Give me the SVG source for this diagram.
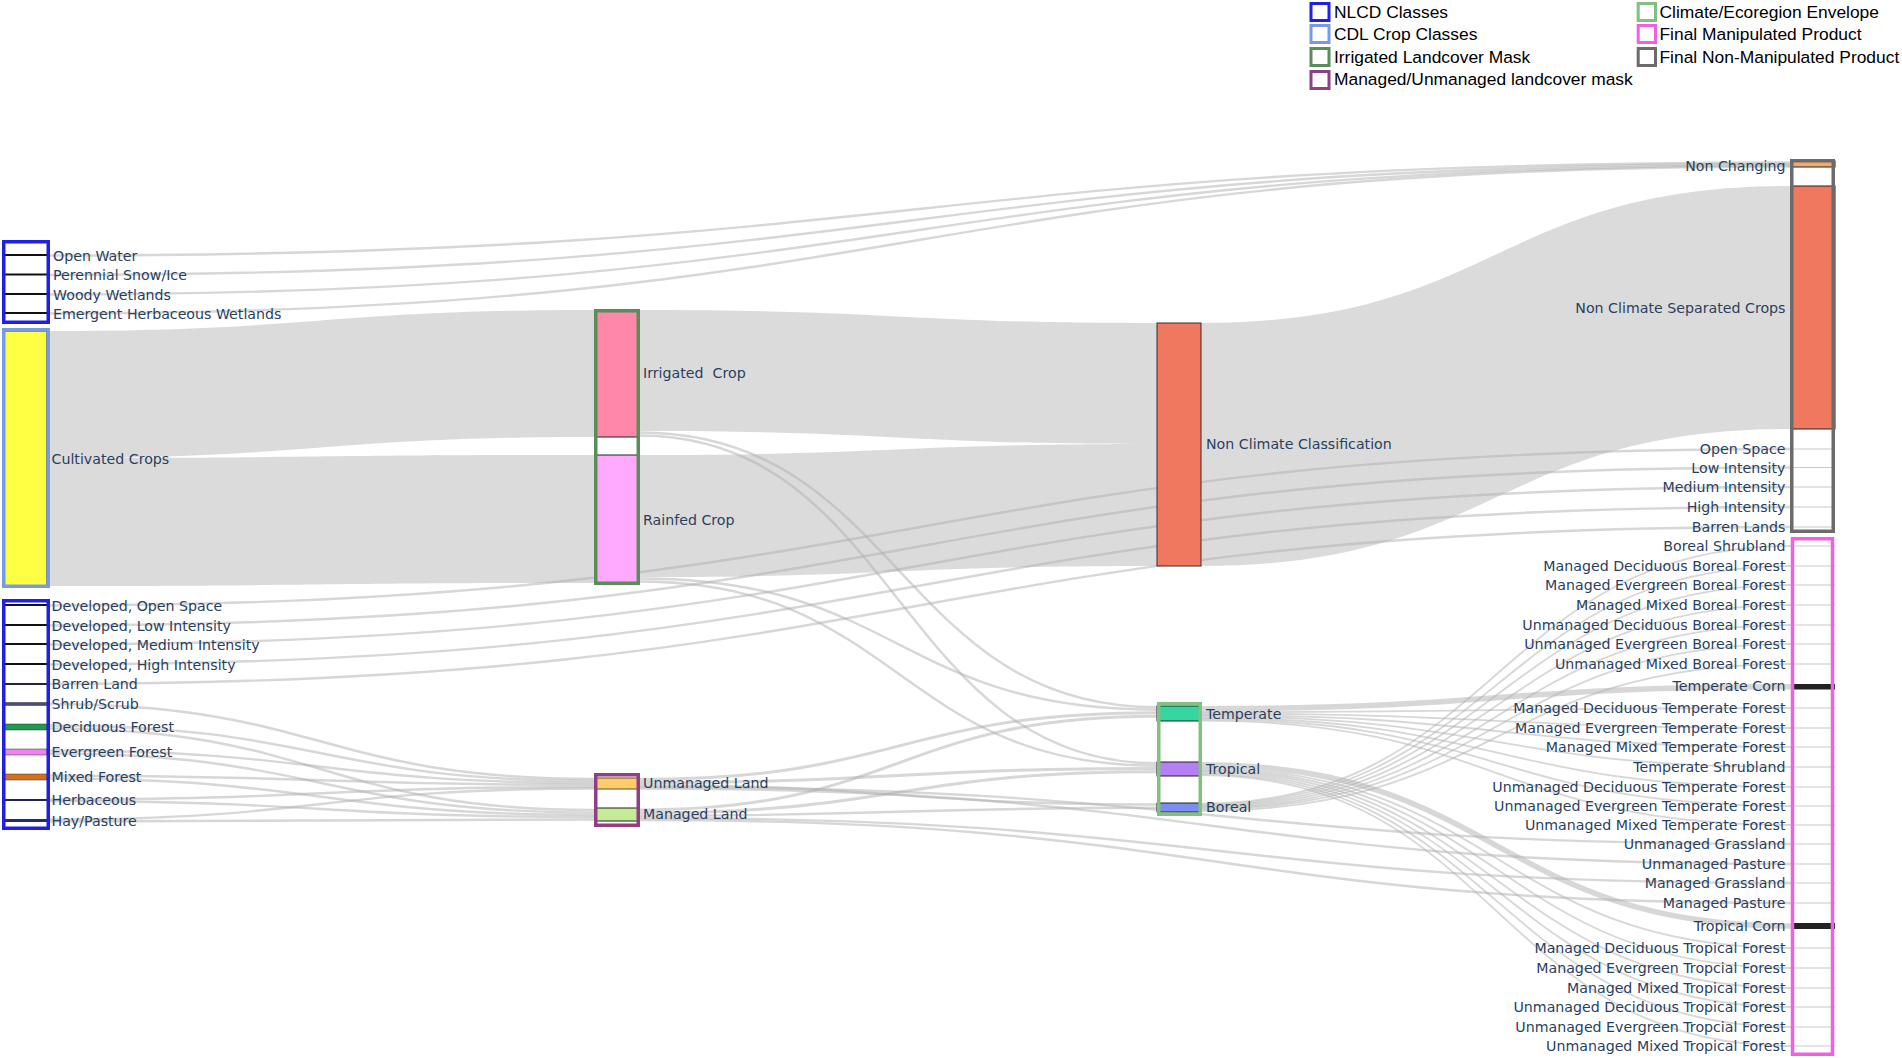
<svg xmlns="http://www.w3.org/2000/svg" width="1902" height="1058" viewBox="0 0 1902 1058">
<style>
.band{fill:#b8b8b8;fill-opacity:.5;stroke:none}
.lk{fill:none;stroke:#b0b0b0;stroke-opacity:.5;stroke-width:2.4}
.lbl{font-family:"DejaVu Sans",Verdana,sans-serif;font-size:14.2px;fill:#2a3f5f}
.r{text-anchor:end}
.leg{font-family:"Liberation Sans",Arial,sans-serif;font-size:17.4px;fill:#000}
.nd{stroke:#222;stroke-width:1}
.tiny{fill:#fff;stroke:#111;stroke-width:1}
.gl{fill:#c9c9c9}
.box{fill:none;stroke-width:3.5}
.lb{fill:#fff;stroke-width:3}
</style>
<rect width="1902" height="1058" fill="#fff"/>

<g id="links">
<path class="band" d="M47,331 C321.25,331 321.25,310 595.5,310 L595.5,437 C321.25,437 321.25,458 47,458 Z"/>
<path class="band" d="M47,458 C321.25,458 321.25,455 595.5,455 L595.5,583 C321.25,583 321.25,586 47,586 Z"/>
<path class="band" d="M639.5,310 C898.25,310 898.25,323 1157,323 L1157,444 C898.25,444 898.25,431 639.5,431 Z"/>
<path class="band" d="M639.5,455 C898.25,455 898.25,444 1157,444 L1157,566 C898.25,566 898.25,577 639.5,577 Z"/>
<path class="band" d="M1201,323 C1496,323 1496,186 1791,186 L1791,429 C1496,429 1496,566 1201,566 Z"/>
<path class="lk" d="M47,255.5 C919,255.5 919,162.5 1791,162.5"/>
<path class="lk" d="M47,275 C919,275 919,164 1791,164"/>
<path class="lk" d="M47,294.5 C919,294.5 919,165.5 1791,165.5"/>
<path class="lk" d="M47,313.5 C919,313.5 919,166.5 1791,166.5"/>
<path class="lk" d="M47,605.5 C919,605.5 919,449 1791,449"/>
<path class="lk" d="M47,625.5 C919,625.5 919,467.5 1791,467.5"/>
<path class="lk" d="M47,644.5 C919,644.5 919,487 1791,487"/>
<path class="lk" d="M47,664.5 C919,664.5 919,507 1791,507"/>
<path class="lk" d="M47,684 C919,684 919,527 1791,527"/>
<path class="lk" d="M47,704 C321.25,704 321.25,779 595.5,779"/>
<path class="lk" d="M47,725.5 C321.25,725.5 321.25,781 595.5,781"/>
<path class="lk" d="M47,728.5 C321.25,728.5 321.25,810 595.5,810"/>
<path class="lk" d="M47,750.5 C321.25,750.5 321.25,783 595.5,783"/>
<path class="lk" d="M47,753.5 C321.25,753.5 321.25,812.5 595.5,812.5"/>
<path class="lk" d="M47,775.5 C321.25,775.5 321.25,785 595.5,785"/>
<path class="lk" d="M47,778.5 C321.25,778.5 321.25,815 595.5,815"/>
<path class="lk" d="M47,799.5 C321.25,799.5 321.25,787 595.5,787"/>
<path class="lk" d="M47,801 C321.25,801 321.25,817 595.5,817"/>
<path class="lk" d="M47,819.5 C321.25,819.5 321.25,788.5 595.5,788.5"/>
<path class="lk" d="M47,821.5 C321.25,821.5 321.25,819.5 595.5,819.5"/>
<path class="lk" d="M639.5,432.5 C898.25,432.5 898.25,707.3 1157,707.3"/>
<path class="lk" d="M639.5,435.5 C898.25,435.5 898.25,763.3 1157,763.3"/>
<path class="lk" d="M639.5,578.5 C898.25,578.5 898.25,709.7 1157,709.7"/>
<path class="lk" d="M639.5,581.5 C898.25,581.5 898.25,765.7 1157,765.7"/>
<path class="lk" style="stroke-width:3" d="M639.5,779.5 C898.25,779.5 898.25,712.7 1157,712.7"/>
<path class="lk" style="stroke-width:3" d="M639.5,782.5 C898.25,782.5 898.25,768.5 1157,768.5"/>
<path class="lk" d="M639.5,785.2 C898.25,785.2 898.25,804.5 1157,804.5"/>
<path class="lk" style="stroke-width:3" d="M639.5,810 C898.25,810 898.25,716.2 1157,716.2"/>
<path class="lk" style="stroke-width:3" d="M639.5,813 C898.25,813 898.25,771.7 1157,771.7"/>
<path class="lk" d="M639.5,815.8 C898.25,815.8 898.25,807.8 1157,807.8"/>
<path class="lk" d="M639.5,787 C1215.25,787 1215.25,844 1791,844"/>
<path class="lk" d="M639.5,788.5 C1215.25,788.5 1215.25,864 1791,864"/>
<path class="lk" d="M639.5,818 C1215.25,818 1215.25,883 1791,883"/>
<path class="lk" d="M639.5,820 C1215.25,820 1215.25,903 1791,903"/>
<path class="lk" style="stroke-width:5.5" d="M1201,708.75 C1496,708.75 1496,686.75 1791,686.75"/>
<path class="lk" style="stroke-width:1.8" d="M1201,712.2 C1496,712.2 1496,708 1791,708"/>
<path class="lk" style="stroke-width:1.8" d="M1201,713.6 C1496,713.6 1496,728 1791,728"/>
<path class="lk" style="stroke-width:1.8" d="M1201,715 C1496,715 1496,747 1791,747"/>
<path class="lk" style="stroke-width:1.8" d="M1201,716.4 C1496,716.4 1496,767 1791,767"/>
<path class="lk" style="stroke-width:1.8" d="M1201,717.8 C1496,717.8 1496,787 1791,787"/>
<path class="lk" style="stroke-width:1.8" d="M1201,719.2 C1496,719.2 1496,806 1791,806"/>
<path class="lk" style="stroke-width:1.8" d="M1201,720.6 C1496,720.6 1496,825 1791,825"/>
<path class="lk" style="stroke-width:5.5" d="M1201,764.75 C1496,764.75 1496,926 1791,926"/>
<path class="lk" style="stroke-width:1.8" d="M1201,768.2 C1496,768.2 1496,948 1791,948"/>
<path class="lk" style="stroke-width:1.8" d="M1201,769.6 C1496,769.6 1496,968 1791,968"/>
<path class="lk" style="stroke-width:1.8" d="M1201,771 C1496,771 1496,988 1791,988"/>
<path class="lk" style="stroke-width:1.8" d="M1201,772.4 C1496,772.4 1496,1007 1791,1007"/>
<path class="lk" style="stroke-width:1.8" d="M1201,773.8 C1496,773.8 1496,1027 1791,1027"/>
<path class="lk" style="stroke-width:1.8" d="M1201,775.2 C1496,775.2 1496,1046 1791,1046"/>
<path class="lk" style="stroke-width:1.8" d="M1201,803.6 C1496,803.6 1496,546 1791,546"/>
<path class="lk" style="stroke-width:1.8" d="M1201,804.8 C1496,804.8 1496,566 1791,566"/>
<path class="lk" style="stroke-width:1.8" d="M1201,806 C1496,806 1496,585 1791,585"/>
<path class="lk" style="stroke-width:1.8" d="M1201,807.2 C1496,807.2 1496,605 1791,605"/>
<path class="lk" style="stroke-width:1.8" d="M1201,808.4 C1496,808.4 1496,625 1791,625"/>
<path class="lk" style="stroke-width:1.8" d="M1201,809.6 C1496,809.6 1496,644 1791,644"/>
<path class="lk" style="stroke-width:1.8" d="M1201,810.8 C1496,810.8 1496,664 1791,664"/>
</g>

<g id="node-open-water"><rect class="tiny" x="3" y="254.5" width="44" height="1"/><text class="lbl" x="53" y="260.5">Open Water</text></g>
<g id="node-perennial-snow-ice"><rect class="tiny" x="3" y="274" width="44" height="1"/><text class="lbl" x="53" y="280">Perennial Snow/Ice</text></g>
<g id="node-woody-wetlands"><rect class="tiny" x="3" y="293.5" width="44" height="1"/><text class="lbl" x="53" y="299.5">Woody Wetlands</text></g>
<g id="node-emergent-herbaceous-wetlands"><rect class="tiny" x="3" y="312.5" width="44" height="1"/><text class="lbl" x="53" y="318.5">Emergent Herbaceous Wetlands</text></g>
<g id="node-cultivated-crops"><rect class="nd" x="3" y="331" width="44" height="255" fill="#ffff44"/><text class="lbl" x="51.5" y="464">Cultivated Crops</text></g>
<g id="node-developed-open-space"><rect class="tiny" x="3" y="604.5" width="44" height="1"/><text class="lbl" x="51.5" y="610.5">Developed, Open Space</text></g>
<g id="node-developed-low"><rect class="tiny" x="3" y="624.5" width="44" height="1"/><text class="lbl" x="51.5" y="630.5">Developed, Low Intensity</text></g>
<g id="node-developed-medium"><rect class="tiny" x="3" y="643.5" width="44" height="1"/><text class="lbl" x="51.5" y="649.5">Developed, Medium Intensity</text></g>
<g id="node-developed-high"><rect class="tiny" x="3" y="663.5" width="44" height="1"/><text class="lbl" x="51.5" y="669.5">Developed, High Intensity</text></g>
<g id="node-barren-land"><rect class="tiny" x="3" y="683.5" width="44" height="1" style="stroke:#222244"/><text class="lbl" x="51.5" y="689">Barren Land</text></g>
<g id="node-shrub-scrub"><rect x="3" y="702.5" width="44" height="3" fill="#4b4b82" stroke="#333" stroke-width=".5"/><text class="lbl" x="51.5" y="709">Shrub/Scrub</text></g>
<g id="node-deciduous-forest"><rect x="3" y="724" width="44" height="6" fill="#1f9a4f" stroke="#333" stroke-width=".5"/><text class="lbl" x="51.5" y="732">Deciduous Forest</text></g>
<g id="node-evergreen-forest"><rect x="3" y="749" width="44" height="6" fill="#ee82ee" stroke="#333" stroke-width=".5"/><text class="lbl" x="51.5" y="757">Evergreen Forest</text></g>
<g id="node-mixed-forest"><rect x="3" y="774" width="44" height="6" fill="#d2711c" stroke="#333" stroke-width=".5"/><text class="lbl" x="51.5" y="782">Mixed Forest</text></g>
<g id="node-herbaceous"><rect x="3" y="799" width="44" height="2" fill="#222255"/><text class="lbl" x="51.5" y="805">Herbaceous</text></g>
<g id="node-hay-pasture"><rect x="3" y="819" width="44" height="3" fill="#2a2a66"/><text class="lbl" x="51.5" y="826">Hay/Pasture</text></g>

<g id="node-irrigated-crop"><rect class="nd" x="595.5" y="310" width="44" height="127" fill="#ff87a7"/><text class="lbl" x="643" y="378" xml:space="preserve" style="white-space:pre">Irrigated  Crop</text></g>
<g id="node-rainfed-crop"><rect class="nd" x="595.5" y="455" width="44" height="128" fill="#ffaaff"/><text class="lbl" x="643" y="525">Rainfed Crop</text></g>
<g id="node-unmanaged-land"><rect class="nd" x="595.5" y="778" width="44" height="11" fill="#ffcb6b" style="stroke:#6b4a20"/><text class="lbl" x="643" y="788">Unmanaged Land</text></g>
<g id="node-managed-land"><rect class="nd" x="595.5" y="808" width="44" height="13" fill="#c6eb97"/><text class="lbl" x="643" y="819">Managed Land</text></g>

<g id="node-non-climate-classification"><rect class="nd" x="1157" y="323" width="44" height="243" fill="#f0785f" style="stroke:#3a2a2a"/><text class="lbl" x="1206" y="449">Non Climate Classification</text></g>
<g id="node-temperate"><rect class="nd" x="1157" y="706" width="44" height="15" fill="#35d6a0"/><text class="lbl" x="1206" y="719">Temperate</text></g>
<g id="node-tropical"><rect class="nd" x="1157" y="762" width="44" height="14" fill="#b580f4"/><text class="lbl" x="1206" y="774">Tropical</text></g>
<g id="node-boreal"><rect class="nd" x="1157" y="803" width="44" height="9" fill="#7c8ef0"/><text class="lbl" x="1206" y="812">Boreal</text></g>

<g id="node-non-changing"><rect class="nd" x="1791" y="161" width="44" height="6" fill="#f4a96c"/><text class="lbl r" x="1785.5" y="171">Non Changing</text></g>
<g id="node-non-climate-separated-crops"><rect class="nd" x="1791" y="186" width="44" height="243" fill="#f0785f"/><text class="lbl r" x="1785.5" y="312.5">Non Climate Separated Crops</text></g>
<g id="node-open-space"><rect class="gl" x="1791" y="448.5" width="44" height="1"/><text class="lbl r" x="1785.5" y="454">Open Space</text></g>
<g id="node-low-intensity"><rect class="gl" x="1791" y="467" width="44" height="1"/><text class="lbl r" x="1785.5" y="472.5">Low Intensity</text></g>
<g id="node-medium-intensity"><rect class="gl" x="1791" y="486.5" width="44" height="1"/><text class="lbl r" x="1785.5" y="492">Medium Intensity</text></g>
<g id="node-high-intensity"><rect class="gl" x="1791" y="506.5" width="44" height="1"/><text class="lbl r" x="1785.5" y="512">High Intensity</text></g>
<g id="node-barren-lands"><rect class="gl" x="1791" y="526.5" width="44" height="1"/><text class="lbl r" x="1785.5" y="532">Barren Lands</text></g>

<g id="node-boreal-shrubland"><rect class="gl" x="1791" y="545.5" width="44" height="1"/><text class="lbl r" x="1785.5" y="551">Boreal Shrubland</text></g>
<g id="node-managed-deciduous-boreal-forest"><rect class="gl" x="1791" y="565.5" width="44" height="1"/><text class="lbl r" x="1785.5" y="571">Managed Deciduous Boreal Forest</text></g>
<g id="node-managed-evergreen-boreal-forest"><rect class="gl" x="1791" y="584.5" width="44" height="1"/><text class="lbl r" x="1785.5" y="590">Managed Evergreen Boreal Forest</text></g>
<g id="node-managed-mixed-boreal-forest"><rect class="gl" x="1791" y="604.5" width="44" height="1"/><text class="lbl r" x="1785.5" y="610">Managed Mixed Boreal Forest</text></g>
<g id="node-unmanaged-deciduous-boreal-forest"><rect class="gl" x="1791" y="624.5" width="44" height="1"/><text class="lbl r" x="1785.5" y="630">Unmanaged Deciduous Boreal Forest</text></g>
<g id="node-unmanaged-evergreen-boreal-forest"><rect class="gl" x="1791" y="643.5" width="44" height="1"/><text class="lbl r" x="1785.5" y="649">Unmanaged Evergreen Boreal Forest</text></g>
<g id="node-unmanaged-mixed-boreal-forest"><rect class="gl" x="1791" y="663.5" width="44" height="1"/><text class="lbl r" x="1785.5" y="669">Unmanaged Mixed Boreal Forest</text></g>
<g id="node-temperate-corn"><rect x="1791" y="684" width="44" height="5.5" fill="#222"/><text class="lbl r" x="1785.5" y="691">Temperate Corn</text></g>
<g id="node-managed-deciduous-temperate-forest"><rect class="gl" x="1791" y="707.5" width="44" height="1"/><text class="lbl r" x="1785.5" y="713">Managed Deciduous Temperate Forest</text></g>
<g id="node-managed-evergreen-temperate-forest"><rect class="gl" x="1791" y="727.5" width="44" height="1"/><text class="lbl r" x="1785.5" y="733">Managed Evergreen Temperate Forest</text></g>
<g id="node-managed-mixed-temperate-forest"><rect class="gl" x="1791" y="746.5" width="44" height="1"/><text class="lbl r" x="1785.5" y="752">Managed Mixed Temperate Forest</text></g>
<g id="node-temperate-shrubland"><rect class="gl" x="1791" y="766.5" width="44" height="1"/><text class="lbl r" x="1785.5" y="772">Temperate Shrubland</text></g>
<g id="node-unmanaged-deciduous-temperate-forest"><rect class="gl" x="1791" y="786.5" width="44" height="1"/><text class="lbl r" x="1785.5" y="792">Unmanaged Deciduous Temperate Forest</text></g>
<g id="node-unmanaged-evergreen-temperate-forest"><rect class="gl" x="1791" y="805.5" width="44" height="1"/><text class="lbl r" x="1785.5" y="811">Unmanaged Evergreen Temperate Forest</text></g>
<g id="node-unmanaged-mixed-temperate-forest"><rect class="gl" x="1791" y="824.5" width="44" height="1"/><text class="lbl r" x="1785.5" y="830">Unmanaged Mixed Temperate Forest</text></g>
<g id="node-unmanaged-grassland"><rect class="gl" x="1791" y="843.5" width="44" height="1"/><text class="lbl r" x="1785.5" y="849">Unmanaged Grassland</text></g>
<g id="node-unmanaged-pasture"><rect class="gl" x="1791" y="863.5" width="44" height="1"/><text class="lbl r" x="1785.5" y="869">Unmanaged Pasture</text></g>
<g id="node-managed-grassland"><rect class="gl" x="1791" y="882.5" width="44" height="1"/><text class="lbl r" x="1785.5" y="888">Managed Grassland</text></g>
<g id="node-managed-pasture"><rect class="gl" x="1791" y="902.5" width="44" height="1"/><text class="lbl r" x="1785.5" y="908">Managed Pasture</text></g>
<g id="node-tropical-corn"><rect x="1791" y="923" width="44" height="6" fill="#222"/><text class="lbl r" x="1785.5" y="931">Tropical Corn</text></g>
<g id="node-managed-deciduous-tropical-forest"><rect class="gl" x="1791" y="947.5" width="44" height="1"/><text class="lbl r" x="1785.5" y="953">Managed Deciduous Tropical Forest</text></g>
<g id="node-managed-evergreen-tropcial-forest"><rect class="gl" x="1791" y="967.5" width="44" height="1"/><text class="lbl r" x="1785.5" y="973">Managed Evergreen Tropcial Forest</text></g>
<g id="node-managed-mixed-tropical-forest"><rect class="gl" x="1791" y="987.5" width="44" height="1"/><text class="lbl r" x="1785.5" y="993">Managed Mixed Tropical Forest</text></g>
<g id="node-unmanaged-deciduous-tropical-forest"><rect class="gl" x="1791" y="1006.5" width="44" height="1"/><text class="lbl r" x="1785.5" y="1012">Unmanaged Deciduous Tropical Forest</text></g>
<g id="node-unmanaged-evergreen-tropcial-forest"><rect class="gl" x="1791" y="1026.5" width="44" height="1"/><text class="lbl r" x="1785.5" y="1032">Unmanaged Evergreen Tropcial Forest</text></g>
<g id="node-unmanaged-mixed-tropical-forest"><rect class="gl" x="1791" y="1045.5" width="44" height="1"/><text class="lbl r" x="1785.5" y="1051">Unmanaged Mixed Tropical Forest</text></g>

<g id="group-boxes">
<rect class="box" x="3.75" y="241.75" width="44.5" height="80.5" stroke="#1f1fe6"/>
<rect class="box" x="3.75" y="329.75" width="44.5" height="256.5" stroke="#7799e6"/>
<rect class="box" x="3.75" y="600.75" width="44.5" height="227.5" stroke="#1f1fe6"/>
<rect class="box" x="595.75" y="310.75" width="42.5" height="272.5" stroke="#5b8c5b"/>
<rect class="box" x="595.75" y="774.75" width="42.5" height="50.5" stroke="#8f3f84"/>
<rect class="box" x="1158.75" y="703.75" width="41.5" height="110.5" stroke="#80c080"/>
<rect class="box" x="1791.75" y="160.75" width="41.5" height="370.5" stroke="#6b6b6b"/>
<rect class="box" x="1792.5" y="538.75" width="40" height="515.5" stroke="#f060e0"/>
</g>

<g id="legend">
<rect class="lb" x="1311" y="3.5" width="18" height="17" stroke="#1f1fe6"/>
<text class="leg" x="1334" y="17.5">NLCD Classes</text>
<rect class="lb" x="1311" y="25.5" width="18" height="17" stroke="#7799e6"/>
<text class="leg" x="1334" y="40">CDL Crop Classes</text>
<rect class="lb" x="1311" y="48.5" width="18" height="17" stroke="#5b8c5b"/>
<text class="leg" x="1334" y="62.5">Irrigated Landcover Mask</text>
<rect class="lb" x="1311" y="71.5" width="18" height="17" stroke="#8f3f84"/>
<text class="leg" x="1334" y="85">Managed/Unmanaged landcover mask</text>
<rect class="lb" x="1638.2" y="3.5" width="17.3" height="17" stroke="#80c080"/>
<text class="leg" x="1659.5" y="17.5">Climate/Ecoregion Envelope</text>
<rect class="lb" x="1638.2" y="25.5" width="17.3" height="17" stroke="#f060e0"/>
<text class="leg" x="1659.5" y="40">Final Manipulated Product</text>
<rect class="lb" x="1638.2" y="48.5" width="17.3" height="17" stroke="#6b6b6b"/>
<text class="leg" x="1659.5" y="62.5">Final Non-Manipulated Product</text>
</g>
</svg>
